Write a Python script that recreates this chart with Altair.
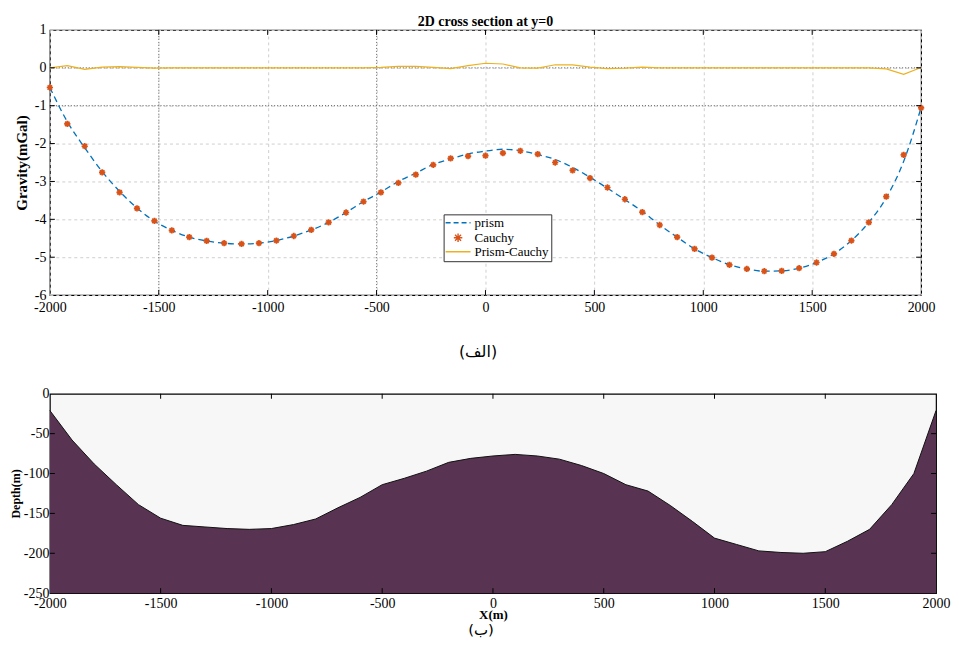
import altair as alt
import pandas as pd

# ---------------- data ----------------
x_top = [-2000, -1920, -1840, -1760, -1680, -1600, -1520, -1440, -1360, -1280,
         -1200, -1120, -1040, -960, -880, -800, -720, -640, -560, -480,
         -400, -320, -240, -160, -80, 0, 80, 160, 240, 320,
         400, 480, 560, 640, 720, 800, 880, 960, 1040, 1120,
         1200, 1280, 1360, 1440, 1520, 1600, 1680, 1760, 1840, 1920, 2000]

cauchy = [-0.52, -1.48, -2.07, -2.76, -3.29, -3.71, -4.04, -4.29, -4.47, -4.57,
          -4.63, -4.65, -4.63, -4.56, -4.44, -4.28, -4.08, -3.82, -3.53, -3.29,
          -3.04, -2.82, -2.56, -2.39, -2.33, -2.32, -2.25, -2.19, -2.28, -2.50,
          -2.71, -2.91, -3.16, -3.47, -3.81, -4.15, -4.47, -4.78, -5.01, -5.20,
          -5.31, -5.37, -5.36, -5.29, -5.14, -4.91, -4.56, -4.08, -3.40, -2.30, -1.06]

prism = [-0.52, -1.42, -2.11, -2.74, -3.26, -3.70, -4.05, -4.29, -4.47, -4.57,
         -4.63, -4.65, -4.63, -4.56, -4.44, -4.28, -4.08, -3.82, -3.53, -3.28,
         -3.00, -2.78, -2.55, -2.41, -2.27, -2.20, -2.15, -2.19, -2.29, -2.42,
         -2.63, -2.89, -3.18, -3.48, -3.79, -4.15, -4.47, -4.78, -5.01, -5.20,
         -5.31, -5.37, -5.36, -5.29, -5.14, -4.91, -4.56, -4.08, -3.43, -2.47, -1.05]

diff = [0.00, 0.06, -0.04, 0.02, 0.03, 0.01, -0.01, 0.00, 0.00, 0.00,
        0.00, 0.00, 0.00, 0.00, 0.00, 0.00, 0.00, 0.00, 0.00, 0.01,
        0.04, 0.04, 0.01, -0.02, 0.06, 0.12, 0.10, 0.00, -0.01, 0.08,
        0.08, 0.02, -0.02, -0.01, 0.02, 0.00, 0.00, 0.00, 0.00, 0.00,
        0.00, 0.00, 0.00, 0.00, 0.00, 0.00, 0.00, 0.00, -0.03, -0.17, 0.01]

series_names = ["prism", "Cauchy", "Prism-Cauchy"]
series_colors = ["#0072BD", "#D95319", "#EDB120"]

x_ticks = [-2000, -1500, -1000, -500, 0, 500, 1000, 1500, 2000]
y_ticks_top = [-6, -5, -4, -3, -2, -1, 0, 1]
dark_x = [-1500, -500]
dark_y = [-1, 0]

depth_x = [-2000, -1900, -1800, -1700, -1600, -1500, -1400, -1300, -1200, -1100,
           -1000, -900, -800, -700, -600, -500, -400, -300, -200, -100,
           0, 100, 200, 300, 400, 500, 600, 700, 800, 900,
           1000, 1100, 1200, 1300, 1400, 1500, 1600, 1700, 1800, 1900, 2000]
depth = [-21, -58, -88, -114, -139, -156, -165, -167, -169, -170,
         -169, -164, -157, -143, -130, -114, -106, -97, -86, -81,
         -78, -76, -78, -82, -90, -100, -114, -122, -140, -160,
         -181, -189, -197, -199, -200, -198, -185, -170, -139, -100, -21]
y_ticks_bot = [-250, -200, -150, -100, -50, 0]

# ---------------- sizes ----------------
W1, H1 = 874, 266
W2, H2 = 889, 200
SERIF = "Liberation Serif"
ARABIC = "DejaVu Sans"
AST = "M-0.85,0L0.85,0M0,-0.85L0,0.85M-0.6,-0.6L0.6,0.6M-0.6,0.6L0.6,-0.6"
LINE_SYM = "M-2.5,0L2.5,0"
PLAIN = "datum.value + ''"

# ---------------- top chart ----------------
df_prism = pd.DataFrame({"x": x_top, "g": prism, "series": "prism"})
df_cauchy = pd.DataFrame({"x": x_top, "g": cauchy, "series": "Cauchy"})
df_diff = pd.DataFrame({"x": x_top, "g": diff, "series": "Prism-Cauchy"})
df_xt = pd.DataFrame({"x": x_ticks[1:-1]})
df_yt = pd.DataFrame({"g": y_ticks_top[1:-1]})
df_dx = pd.DataFrame({"x": dark_x})
df_dy = pd.DataFrame({"g": dark_y})

xs1 = alt.Scale(domain=[-2000, 2000], nice=False, zero=False)
ys1 = alt.Scale(domain=[-6, 1], nice=False, zero=False)

legend = alt.Legend(
    title=None, orient="none", legendX=395, legendY=185,
    fillColor="white", strokeColor="#333333", padding=2,
    labelFont=SERIF, labelFontSize=13, labelColor="black",
    symbolOffset=6, labelOffset=10, rowPadding=0,
    symbolStrokeWidth=1.4, symbolFillColor="transparent",
)
color = alt.Color("series:N", scale=alt.Scale(domain=series_names, range=series_colors),
                  legend=legend)
shape = alt.Shape("series:N", scale=alt.Scale(domain=series_names,
                                              range=[LINE_SYM, AST, LINE_SYM]),
                  legend=legend)
dash = alt.StrokeDash("series:N", scale=alt.Scale(domain=series_names,
                                                  range=[[5, 3], [1, 0], [1, 0]]),
                      legend=legend)

x_axis1 = alt.Axis(values=x_ticks, title="(الف)", titleFont=ARABIC, titleFontSize=16,
                   titleFontWeight="normal", titleColor="black", titlePadding=30, titleX=429,
                   labelFont=SERIF, labelFontSize=14, labelColor="black", labelPadding=5,
                   labelExpr=PLAIN, ticks=False, domain=False, grid=True,
                   gridColor="#cfcfcf", gridDash=[3, 3], labelFlush=False)
y_axis1 = alt.Axis(values=y_ticks_top, title="Gravity(mGal)", titleFont=SERIF,
                   titleFontSize=15, titleFontWeight="bold", titleColor="black",
                   titlePadding=5, labelFont=SERIF, labelFontSize=14, labelColor="black",
                   labelPadding=4, labelExpr=PLAIN, ticks=False, domain=False, grid=True,
                   gridColor="#cfcfcf", gridDash=[3, 3])

X1 = alt.X("x:Q", scale=xs1, axis=x_axis1, title="(الف)")
Y1 = alt.Y("g:Q", scale=ys1, axis=y_axis1, title="Gravity(mGal)")

dark_v = alt.Chart(df_dx).mark_rule(color="#666666", strokeDash=[1, 2], strokeWidth=1).encode(x=X1)
dark_h = alt.Chart(df_dy).mark_rule(color="#555555", strokeDash=[1, 2], strokeWidth=1).encode(y=Y1)

prism_line = alt.Chart(df_prism).mark_line(strokeDash=[6, 4], strokeWidth=1.3,
                                           interpolate="monotone").encode(
    x=X1, y=Y1, color=color)
cauchy_pts = alt.Chart(df_cauchy).mark_point(filled=False, size=55,
                                             strokeWidth=1.7, opacity=1).encode(
    x=X1, y=Y1, color=color, shape=shape, strokeDash=dash)
diff_line = alt.Chart(df_diff).mark_line(strokeWidth=1.2).encode(
    x=X1, y=Y1, color=color)

tk_top1 = alt.Chart(df_xt).mark_rule(color="black").encode(
    x=X1, y=alt.value(0), y2=alt.value(5))
tk_bot1 = alt.Chart(df_xt).mark_rule(color="black").encode(
    x=X1, y=alt.value(H1 - 5), y2=alt.value(H1))
tk_left1 = alt.Chart(df_yt).mark_rule(color="black").encode(
    y=Y1, x=alt.value(0), x2=alt.value(5))
tk_right1 = alt.Chart(df_yt).mark_rule(color="black").encode(
    y=Y1, x=alt.value(W1 - 5), x2=alt.value(W1))

top = alt.layer(dark_v, dark_h, prism_line, diff_line, cauchy_pts,
                tk_top1, tk_bot1, tk_left1, tk_right1).properties(
    width=W1, height=H1,
    title=alt.TitleParams("2D cross section at y=0", font=SERIF, fontSize=14,
                          fontWeight="bold", color="black", offset=-6),
    view=alt.ViewBackground(fill="white", stroke="black", strokeWidth=1.2),
)

# ---------------- bottom chart ----------------
df_d = pd.DataFrame({"x": depth_x, "d": depth})
df_xt2 = pd.DataFrame({"x": x_ticks[1:-1]})
df_yt2 = pd.DataFrame({"d": y_ticks_bot[1:-1]})

xs2 = alt.Scale(domain=[-2000, 2000], nice=False, zero=False)
ys2 = alt.Scale(domain=[-250, 0], nice=False, zero=False)

x_axis2 = alt.Axis(values=x_ticks, title="X(m)", titleFont=SERIF, titleFontSize=13,
                   titleFontWeight="bold", titleColor="black", titlePadding=-2,
                   labelFont=SERIF, labelFontSize=14, labelColor="black", labelPadding=3,
                   labelExpr=PLAIN, ticks=False, domain=False, grid=False, labelFlush=False)
y_axis2 = alt.Axis(values=y_ticks_bot, title="Depth(m)", titleFont=SERIF, titleFontSize=12,
                   titleFontWeight="bold", titleColor="black", titlePadding=1,
                   labelFont=SERIF, labelFontSize=14, labelColor="black", labelPadding=1,
                   labelExpr=PLAIN, ticks=False, domain=False, grid=False)

X2 = alt.X("x:Q", scale=xs2, axis=x_axis2, title="X(m)")
Y2 = alt.Y("d:Q", scale=ys2, axis=y_axis2, title="Depth(m)")

area = alt.Chart(df_d).mark_area(color="#583452", opacity=1).encode(
    x=X2, y=Y2, y2=alt.datum(-250))
edge = alt.Chart(df_d).mark_line(color="#111111", strokeWidth=1).encode(x=X2, y=Y2)

tk_top2 = alt.Chart(df_xt2).mark_rule(color="black").encode(
    x=X2, y=alt.value(0), y2=alt.value(5))
tk_bot2 = alt.Chart(df_xt2).mark_rule(color="black").encode(
    x=X2, y=alt.value(H2 - 5), y2=alt.value(H2))
tk_left2 = alt.Chart(df_yt2).mark_rule(color="black").encode(
    y=Y2, x=alt.value(0), x2=alt.value(5))
tk_right2 = alt.Chart(df_yt2).mark_rule(color="black").encode(
    y=Y2, x=alt.value(W2 - 5), x2=alt.value(W2))

bottom = alt.layer(area, edge, tk_top2, tk_bot2, tk_left2, tk_right2).properties(
    width=W2, height=H2,
    title=alt.TitleParams("(ب)", orient="bottom", font=ARABIC, fontSize=15,
                          fontWeight="normal", color="black", offset=2, dx=-12),
    view=alt.ViewBackground(fill="#f7f7f7", stroke="black", strokeWidth=1.2),
)

chart = alt.concat(top, bottom, columns=1, spacing=25, align="none").resolve_scale(
    x="independent", y="independent"
).properties(
    padding={"left": 0, "top": 5, "right": 0, "bottom": 0},
    background="white",
)

chart.save("out.html", embed_options={"renderer": "svg", "actions": False})
